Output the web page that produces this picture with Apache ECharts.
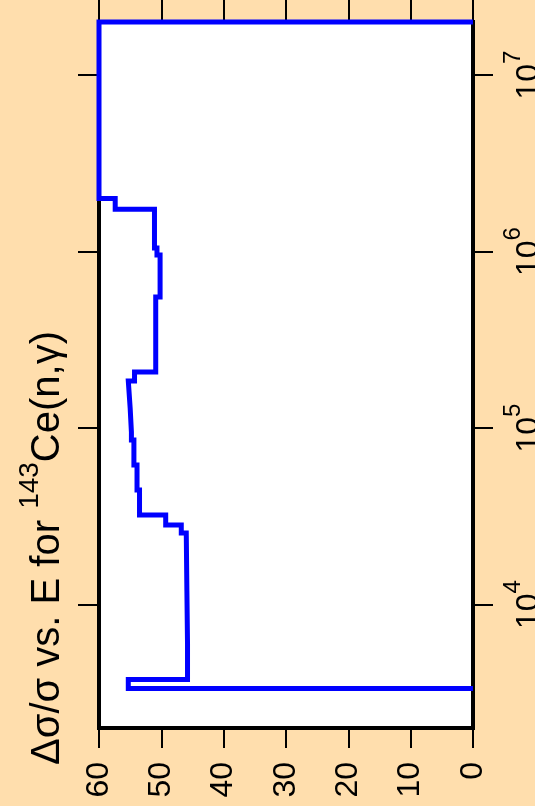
<!DOCTYPE html>
<html>
<head>
<meta charset="utf-8">
<script src="https://cdn.jsdelivr.net/npm/echarts@6/dist/echarts.min.js"></script>
<style>
  html, body { margin: 0; padding: 0; background: #FFDEAD; }
  #chart { width: 535px; height: 806px; }
</style>
</head>
<body>
<div id="chart"></div>
<script>
// Energy group boundaries (eV, ascending) and relative uncertainty (%) of each group
const energyBounds = [3350, 3770, 6000, 12000, 25500, 28300, 32200, 44600, 61800, 85700,
  95000, 130000, 185000, 208000, 553000, 957000, 1050000, 1740000, 2000000, 20000000];
const groupValues = [55.3, 45.8, 45.9, 46.0, 46.8, 49.3, 53.5, 53.9, 54.4, 54.8,
  55.0, 55.3, 54.3, 50.9, 50.2, 50.7, 51.1, 57.4, 60];

// Axis extents and tick marks
const energyMin = 2000;
const energyMax = 20000000;
const energyTicks = [1e4, 1e5, 1e6, 1e7];
const valueMin = 0;
const valueMax = 60;
const valueStep = 10;

const FONT = "'Liberation Sans', Arial, Helvetica, sans-serif";

// Build the histogram outline: [value, energy] corners of each group
function buildSteps() {
  const pts = [[0, energyBounds[0]]];
  for (let i = 0; i < groupValues.length; i++) {
    pts.push([groupValues[i], energyBounds[i]]);
    pts.push([groupValues[i], energyBounds[i + 1]]);
  }
  pts.push([0, energyBounds[energyBounds.length - 1]]);
  return pts;
}

const chart = echarts.init(document.getElementById('chart'), null, { renderer: 'canvas' });

const tickStyle = { color: '#000', width: 2 };
const hiddenLine = { show: false, onZero: false };

chart.setOption({
  backgroundColor: '#FFDEAD',
  animation: false,
  grid: {
    left: 99, right: 62, top: 22, bottom: 78,
    outerBoundsMode: 'none',
    containLabel: false,
    show: true, backgroundColor: '#ffffff',
    borderColor: '#000000', borderWidth: 4
  },
  xAxis: [
    {
      type: 'value', position: 'bottom', inverse: true,
      min: valueMin, max: valueMax, interval: valueStep,
      axisLine: hiddenLine,
      axisTick: { show: true, length: 20, lineStyle: tickStyle },
      axisLabel: { rotate: 90, margin: 34, fontSize: 32, color: '#000', fontFamily: FONT },
      splitLine: { show: false }
    },
    {
      type: 'value', position: 'top', inverse: true,
      min: valueMin, max: valueMax, interval: valueStep,
      axisLine: hiddenLine,
      axisTick: { show: true, length: 22, lineStyle: tickStyle },
      axisLabel: { show: false },
      splitLine: { show: false }
    }
  ],
  yAxis: [
    {
      type: 'log', logBase: 10, position: 'right',
      min: energyMin, max: energyMax,
      axisLine: hiddenLine,
      axisTick: { show: true, length: 20, lineStyle: tickStyle, customValues: energyTicks },
      axisLabel: {
        customValues: energyTicks,
        rotate: 90, margin: 28, color: '#000',
        formatter: v => '{b|10}{s|' + Math.round(Math.log10(v)) + '}',
        rich: {
          b: { fontSize: 32, fontFamily: FONT, color: '#000', verticalAlign: 'bottom', lineHeight: 44 },
          s: { fontSize: 24, fontFamily: FONT, color: '#000', verticalAlign: 'top', lineHeight: 44 }
        }
      },
      splitLine: { show: false }
    },
    {
      type: 'log', logBase: 10, position: 'left',
      min: energyMin, max: energyMax,
      axisLine: hiddenLine,
      axisTick: { show: true, length: 21, lineStyle: tickStyle, customValues: energyTicks },
      axisLabel: { show: false },
      splitLine: { show: false }
    }
  ],
  series: [
    {
      type: 'line',
      xAxisIndex: 0, yAxisIndex: 0,
      data: buildSteps(),
      symbol: 'none',
      clip: false,
      lineStyle: { color: '#0000ff', width: 5, join: 'miter' },
      z: 5
    }
  ],
  graphic: [
    {
      type: 'text',
      x: 42, y: 548,
      rotation: Math.PI / 2,
      style: {
        text: '{m|Δσ/σ vs. E for }{s|143}{m|Ce(n,γ)}',
        align: 'center', verticalAlign: 'middle',
        fill: '#000',
        rich: {
          m: { fontSize: 40, fontFamily: FONT, fill: '#000', verticalAlign: 'bottom', lineHeight: 52 },
          s: { fontSize: 28, fontFamily: FONT, fill: '#000', verticalAlign: 'top', lineHeight: 52 }
        }
      }
    }
  ]
});
</script>
</body>
</html>
